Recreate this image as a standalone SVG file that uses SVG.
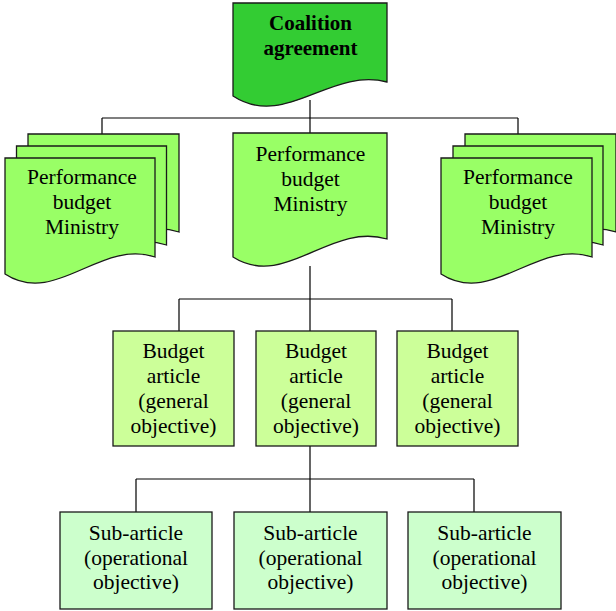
<svg xmlns="http://www.w3.org/2000/svg" width="616" height="611" viewBox="0 0 616 611">
  <style>
    .doc-top { fill: #33cc33; stroke: #1a1a1a; stroke-width: 1.3; }
    .doc { fill: #99ff66; stroke: #1a1a1a; stroke-width: 1.3; }
    .article { fill: #ccff99; stroke: #1a1a1a; stroke-width: 1.3; }
    .sub { fill: #ccffcc; stroke: #1a1a1a; stroke-width: 1.3; }
    .conn { fill: none; stroke: #000; stroke-width: 1.2; }
    text { font-family: "Liberation Serif", "Times New Roman", serif; font-size: 21.5px; fill: #000; text-anchor: middle; }
    .bold { font-weight: bold; font-size: 21px; }
  </style>

  <!-- connectors -->
  <g id="connectors" class="conn">
    <path d="M310,100 V118 M102,118 H518 M102,118 V134 M310,118 V133 M518,118 V134"/>
    <path d="M310,266 V299 M179,299 H452 M179,299 V331 M310,299 V331 M452,299 V331"/>
    <path d="M310,446 V479 M136,479 H474 M136,479 V512 M310,479 V512 M474,479 V512"/>
  </g>

  <!-- top document -->
  <g id="coalition">
    <path class="doc-top" d="M233,3 H387 V82 C330,67 285,130 233,96 Z"/>
    <text class="bold" x="310.5" y="30">Coalition</text>
    <text class="bold" x="310.5" y="55">agreement</text>
  </g>

  <!-- left stack of ministry budgets -->
  <g id="ministry-left">
    <path class="doc" d="M28,134 H179 V232 C123,214 79,282 28,249 Z"/>
    <path class="doc" d="M16.5,146 H166.5 V245 C111,227 67,295 16.5,262 Z"/>
    <path class="doc" d="M5,158 H155 V257 C99.5,239 55.7,307 5,274 Z"/>
    <text x="82" y="184">Performance</text>
    <text x="82" y="209">budget</text>
    <text x="82" y="234">Ministry</text>
  </g>

  <!-- central ministry budget -->
  <g id="ministry-center">
    <path class="doc" d="M233,133 H387 V239 C330,222 285,290 233,257 Z"/>
    <text x="310.5" y="161">Performance</text>
    <text x="310.5" y="186">budget</text>
    <text x="310.5" y="211">Ministry</text>
  </g>

  <!-- right stack of ministry budgets -->
  <g id="ministry-right">
    <path class="doc" d="M465,134 H616 V232 C560,214 516,282 465,249 Z"/>
    <path class="doc" d="M453,146 H603 V245 C547.5,227 503.7,295 453,262 Z"/>
    <path class="doc" d="M441,158 H592 V257 C536,239 492,307 441,274 Z"/>
    <text x="518" y="184">Performance</text>
    <text x="518" y="209">budget</text>
    <text x="518" y="234">Ministry</text>
  </g>

  <!-- budget articles -->
  <g id="article-1">
    <rect class="article" x="113" y="331" width="121" height="115"/>
    <text x="173.5" y="358">Budget</text>
    <text x="173.5" y="383">article</text>
    <text x="173.5" y="408">(general</text>
    <text x="173.5" y="433">objective)</text>
  </g>
  <g id="article-2">
    <rect class="article" x="256" y="331" width="120" height="115"/>
    <text x="316" y="358">Budget</text>
    <text x="316" y="383">article</text>
    <text x="316" y="408">(general</text>
    <text x="316" y="433">objective)</text>
  </g>
  <g id="article-3">
    <rect class="article" x="397" y="331" width="121" height="115"/>
    <text x="457.5" y="358">Budget</text>
    <text x="457.5" y="383">article</text>
    <text x="457.5" y="408">(general</text>
    <text x="457.5" y="433">objective)</text>
  </g>

  <!-- sub-articles -->
  <g id="sub-1">
    <rect class="sub" x="60" y="512" width="152" height="97"/>
    <text x="136" y="540">Sub-article</text>
    <text x="136" y="564.5">(operational</text>
    <text x="136" y="589">objective)</text>
  </g>
  <g id="sub-2">
    <rect class="sub" x="234" y="512" width="153" height="97"/>
    <text x="310.5" y="540">Sub-article</text>
    <text x="310.5" y="564.5">(operational</text>
    <text x="310.5" y="589">objective)</text>
  </g>
  <g id="sub-3">
    <rect class="sub" x="408" y="512" width="153" height="97"/>
    <text x="484.5" y="540">Sub-article</text>
    <text x="484.5" y="564.5">(operational</text>
    <text x="484.5" y="589">objective)</text>
  </g>
</svg>
